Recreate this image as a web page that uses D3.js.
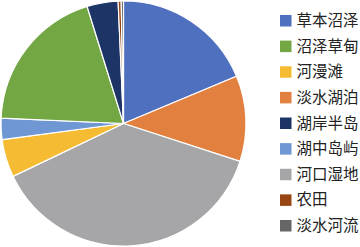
<!DOCTYPE html>
<html>
<head>
<meta charset="utf-8">
<script src="https://cdn.jsdelivr.net/npm/d3@7"></script>
<style>
  body { margin: 0; background: #fff; }
  svg { display: block; }
</style>
</head>
<body>
<div id="chart"></div>
<script>
// legend order
var categories = ["草本沼泽", "沼泽草甸", "河漫滩", "淡水湖泊", "湖岸半岛", "湖中岛屿", "河口湿地", "农田", "淡水河流"];
var shares = [18.7, 19.5, 5.0, 11.3, 4.1, 2.8, 37.9, 0.4, 0.3]; // percent
var colors = ["#4f6fbf", "#73a744", "#f5bb33", "#e2813f", "#1c3566", "#6f97d3", "#a6a6a8", "#974512", "#666666"];
// order of the slices clockwise from 12 o'clock
var sliceOrder = ["草本沼泽", "淡水湖泊", "河口湿地", "河漫滩", "湖中岛屿", "沼泽草甸", "湖岸半岛", "农田", "淡水河流"];

var width = 360, height = 247;
var cx = 123.5, cy = 123.5, radius = 122.5;

var svg = d3.select("#chart")
    .append("svg")
    .attr("width", width)
    .attr("height", height);

var color = d3.scaleOrdinal().domain(categories).range(colors);

var data = sliceOrder.map(function(name) {
  return {name: name, value: shares[categories.indexOf(name)]};
});

var pie = d3.pie().sort(null).value(d => d.value);
var arc = d3.arc().innerRadius(0).outerRadius(radius);

svg.append("g")
    .attr("transform", "translate(" + cx + "," + cy + ")")
  .selectAll("path")
  .data(pie(data))
  .enter().append("path")
    .attr("d", arc)
    .attr("fill", d => color(d.data.name))
    .attr("stroke", "#fff")
    .attr("stroke-width", 1.2)
    .attr("stroke-linejoin", "round");

// Legend
var legendY = d3.scalePoint().domain(categories).range([20.5, 225.5]);

var legend = svg.append("g")
  .selectAll("g")
  .data(categories)
  .enter().append("g")
    .attr("transform", d => "translate(280," + legendY(d) + ")");

legend.append("rect")
    .attr("x", 0)
    .attr("y", -5.5)
    .attr("width", 11.5)
    .attr("height", 11.5)
    .attr("fill", d => color(d));

legend.append("text")
    .attr("x", 16.5)
    .attr("y", 0)
    .attr("dy", "0.36em")
    .style("font-family", "'Noto Sans CJK SC', sans-serif")
    .style("font-size", "15.5px")
    .style("fill", "#222")
    .text(d => d);
</script>
</body>
</html>
